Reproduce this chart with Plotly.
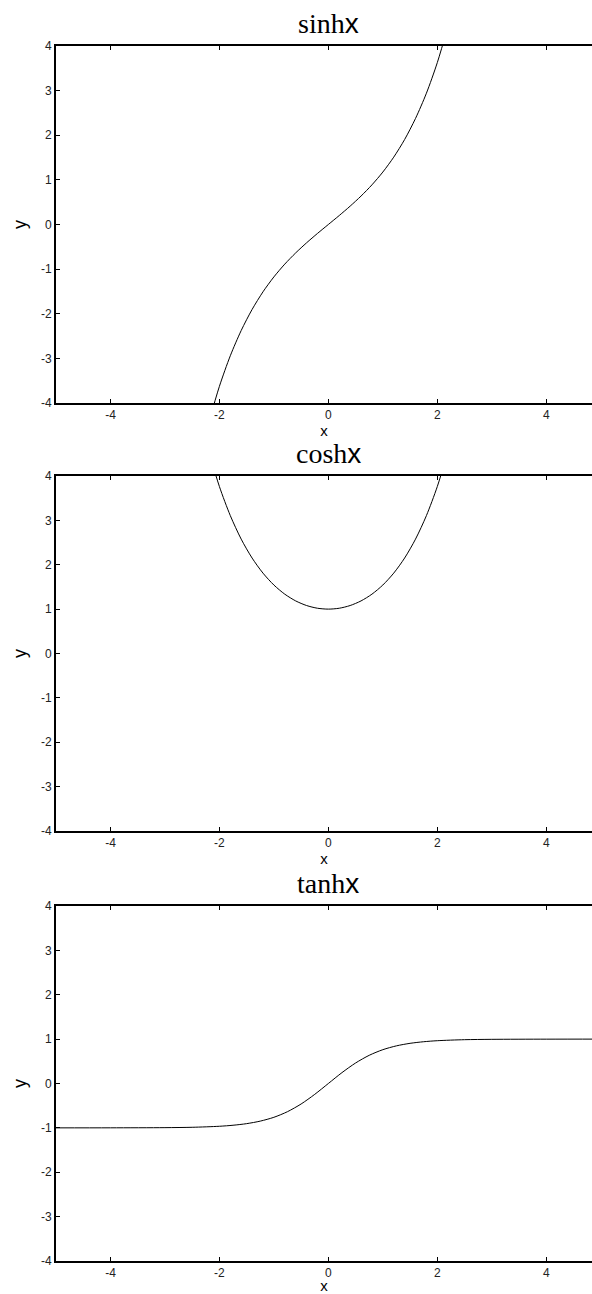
import plotly.graph_objects as go

# Sampled curve values
sinh_x = [-2.2, -2.0, -1.8, -1.6, -1.4, -1.2, -1.0, -0.8, -0.6, -0.4, -0.2, 0.0,
          0.2, 0.4, 0.6, 0.8, 1.0, 1.2, 1.4, 1.6, 1.8, 2.0, 2.2]
sinh_y = [-4.457, -3.627, -2.942, -2.376, -1.904, -1.509, -1.175, -0.888, -0.637, -0.411, -0.201, 0.0,
          0.201, 0.411, 0.637, 0.888, 1.175, 1.509, 1.904, 2.376, 2.942, 3.627, 4.457]

cosh_x = [-2.2, -2.0, -1.8, -1.6, -1.4, -1.2, -1.0, -0.8, -0.6, -0.4, -0.2, 0.0,
          0.2, 0.4, 0.6, 0.8, 1.0, 1.2, 1.4, 1.6, 1.8, 2.0, 2.2]
cosh_y = [4.568, 3.762, 3.107, 2.577, 2.151, 1.811, 1.543, 1.337, 1.185, 1.081, 1.020, 1.0,
          1.020, 1.081, 1.185, 1.337, 1.543, 1.811, 2.151, 2.577, 3.107, 3.762, 4.568]

tanh_x = [-5.0, -4.0, -3.0, -2.5, -2.0, -1.75, -1.5, -1.25, -1.0, -0.75, -0.5, -0.25, 0.0,
          0.25, 0.5, 0.75, 1.0, 1.25, 1.5, 1.75, 2.0, 2.5, 3.0, 4.0, 5.0]
tanh_y = [-1.0, -0.999, -0.995, -0.987, -0.964, -0.941, -0.905, -0.848, -0.762, -0.635, -0.462, -0.245, 0.0,
          0.245, 0.462, 0.635, 0.762, 0.848, 0.905, 0.941, 0.964, 0.987, 0.995, 0.999, 1.0]

x_tickvals = [-4, -2, 0, 2, 4]
x_ticktext = ["-4", "-2", "0", "2", "4"]
y_tickvals = [-4, -3, -2, -1, 0, 1, 2, 3, 4]
y_ticktext = ["-4", "-3", "-2", "-1", "0", "1", "2", "3", "4"]

panels = [
    ("sinh", sinh_x, sinh_y, [0.7062, 1.0]),
    ("cosh", cosh_x, cosh_y, [0.3539, 0.6461]),
    ("tanh", tanh_x, tanh_y, [0.0, 0.2922]),
]

fig = go.Figure()
tick_font = dict(family="Liberation Sans", size=12, color="#222")
layout = {}
annotations = []
for i, (name, xs, ys, dom) in enumerate(panels, start=1):
    sfx = "" if i == 1 else str(i)
    fig.add_trace(go.Scatter(
        x=xs, y=ys, mode="lines",
        line=dict(color="black", width=1, shape="spline", smoothing=0.8),
        xaxis="x" + sfx, yaxis="y" + sfx, showlegend=False, hoverinfo="skip",
    ))
    layout["xaxis" + sfx] = dict(
        domain=[0, 1], range=[-5, 4.84], anchor="y" + sfx,
        tickvals=x_tickvals, ticktext=x_ticktext, ticks="inside", ticklen=4,
        tickwidth=1, tickcolor="black", showline=True, linecolor="black", linewidth=2,
        mirror="ticks", showgrid=False, zeroline=False, tickfont=tick_font,
        title=dict(text="x", font=dict(family="Liberation Sans", size=15, color="black"), standoff=4),
    )
    layout["yaxis" + sfx] = dict(
        domain=dom, range=[-4, 4], anchor="x" + sfx,
        tickvals=y_tickvals, ticktext=y_ticktext, ticks="inside", ticklen=4,
        tickwidth=1, tickcolor="black", showline=True, linecolor="black", linewidth=2,
        mirror=False, showgrid=False, zeroline=False, tickfont=tick_font,
        title=dict(text="y", font=dict(family="Liberation Sans", size=18, color="black"), standoff=10),
    )
    annotations.append(dict(
        text=name + "<span style='font-family:Liberation Sans'>x</span>",
        xref="x" + sfx, x=0, yref="paper", y=dom[1], yanchor="bottom", yshift=5,
        showarrow=False, font=dict(family="Liberation Serif", size=28, color="black"),
    ))

fig.update_layout(
    width=592, height=1294,
    margin=dict(l=56, r=0, t=46, b=33),
    paper_bgcolor="white", plot_bgcolor="white",
    annotations=annotations,
    **layout,
)

fig.write_html("out.html")
